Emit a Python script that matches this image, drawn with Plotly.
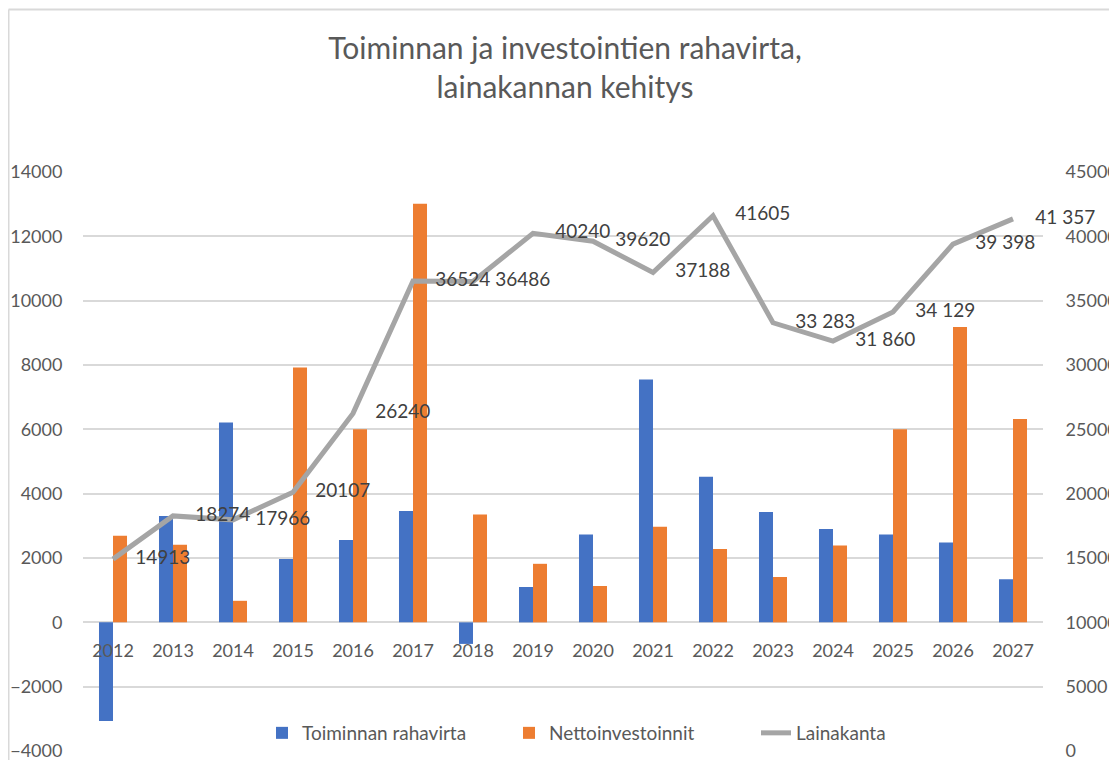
import plotly.graph_objects as go

years = ["2012", "2013", "2014", "2015", "2016", "2017", "2018", "2019",
         "2020", "2021", "2022", "2023", "2024", "2025", "2026", "2027"]
toiminnan_rahavirta = [-3070, 3310, 6210, 1970, 2560, 3460, -670, 1100,
                       2730, 7550, 4530, 3430, 2900, 2730, 2480, 1340]
nettoinvestoinnit = [2690, 2410, 670, 7920, 6000, 13010, 3350, 1820,
                     1130, 2970, 2280, 1410, 2390, 6000, 9180, 6320]
lainakanta = [14913, 18274, 17966, 20107, 26240, 36524, 36486, 40240,
              39620, 37188, 41605, 33283, 31860, 34129, 39398, 41357]
lainakanta_labels = ["14913", "18274", "17966", "20107", "26240", "36524", "36486", "40240",
                     "39620", "37188", "41605", "33 283", "31 860", "34 129", "39 398", "41 357"]

# the page adds an 8px body margin, so the figure is 8px smaller than the window
OFF = 8
W, H = 1117 - OFF, 760 - OFF
L, R, T, B = 83 - OFF, 74, 172 - OFF, 8
plot_h = H - T - B
plot_w = W - L - R

FONT = "Lato"
TICK_COLOR = "#595959"
GRID = "#d9d9d9"

fig = go.Figure()
fig.add_trace(go.Bar(x=years, y=toiminnan_rahavirta, name="Toiminnan rahavirta",
                     marker_color="#4472C4", marker_line_width=0))
fig.add_trace(go.Bar(x=years, y=nettoinvestoinnit, name="Nettoinvestoinnit",
                     marker_color="#ED7D31", marker_line_width=0))
fig.add_trace(go.Scatter(x=years, y=lainakanta, name="Lainakanta", yaxis="y2",
                         mode="lines+markers+text", text=lainakanta_labels,
                         textposition="middle right", cliponaxis=False,
                         textfont=dict(family=FONT, size=19, color="#404040"),
                         marker=dict(size=34, color="rgba(0,0,0,0)"),
                         line=dict(color="#A5A5A5", width=5)))

# left axis slightly padded below -4000 so the -4000 gridline is drawn
Y1 = [-4030, 14000]
# align: -4000 on the left axis corresponds to 0 on the right axis
Y2 = [(Y1[0] + 4000) * 45000 / 18000, 45000]

zero_pos = (0 - Y1[0]) / (Y1[1] - Y1[0])

fig.update_layout(
    width=W, height=H,
    margin=dict(l=L, r=R, t=T, b=B, autoexpand=False),
    paper_bgcolor="white", plot_bgcolor="white",
    barmode="group", bargap=0.533, bargroupgap=0,
    font=dict(family=FONT, color=TICK_COLOR),
    title=dict(text="Toiminnan ja investointien rahavirta,<br>lainakannan kehitys",
               x=(565 - OFF) / W, xref="container", xanchor="center",
               y=1 - (59 - OFF) / H, yref="container", yanchor="middle",
               font=dict(family=FONT, size=30, color=TICK_COLOR)),
    xaxis=dict(type="category", range=[-0.5, len(years) - 0.5],
               anchor="free", position=zero_pos, automargin=False,
               showline=False, showgrid=False, zeroline=False, ticks="",
               ticklabelstandoff=16,
               tickfont=dict(family=FONT, size=18, color=TICK_COLOR)),
    yaxis=dict(range=Y1, tick0=0, dtick=2000, tickformat="d", automargin=False,
               showgrid=True, gridcolor=GRID, gridwidth=1.5,
               zeroline=True, zerolinecolor=GRID, zerolinewidth=1.5,
               showline=False, ticks="outside", ticklen=16, tickcolor="rgba(0,0,0,0)",
               ticklabeloverflow="allow",
               tickfont=dict(family=FONT, size=18, color=TICK_COLOR)),
    yaxis2=dict(range=Y2, tick0=0, dtick=5000, tickformat="d", automargin=False,
                overlaying="y", side="right",
                showgrid=False, zeroline=False, showline=False,
                ticks="outside", ticklen=18, tickcolor="rgba(0,0,0,0)",
                ticklabeloverflow="allow",
                tickfont=dict(family=FONT, size=18, color=TICK_COLOR)),
    legend=dict(orientation="h", x=(262 - OFF - L) / plot_w, xanchor="left",
                y=(H - B - (733 - OFF)) / plot_h, yanchor="middle",
                bgcolor="rgba(0,0,0,0)", entrywidth=202, itemwidth=30,
                font=dict(family=FONT, size=19, color=TICK_COLOR),
                traceorder="normal"),
    showlegend=True,
)

# chart-area border (left and top edges visible in the reference)
fig.add_shape(type="line", xref="paper", yref="paper",
              x0=(0.5 - L) / plot_w, x1=(W + 5 - L) / plot_w,
              y0=(H - B - 1.5) / plot_h, y1=(H - B - 1.5) / plot_h,
              line=dict(color=GRID, width=2), layer="below")
fig.add_shape(type="line", xref="paper", yref="paper",
              x0=(0.5 - L) / plot_w, x1=(0.5 - L) / plot_w,
              y0=(H - B - 1.5) / plot_h, y1=(H - B - H - 5) / plot_h,
              line=dict(color=GRID, width=2), layer="below")

fig.write_html("out.html")
